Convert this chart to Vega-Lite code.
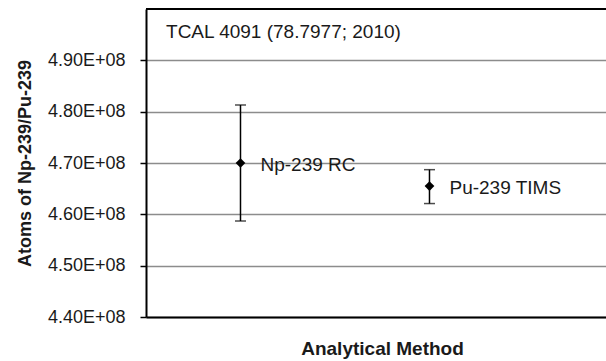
{
  "$schema": "https://vega.github.io/schema/vega-lite/v6.json",
  "autosize": "none",
  "width": 460,
  "height": 308,
  "padding": {"left": 146, "top": 9, "right": 0, "bottom": 44},
  "background": "white",
  "config": {
    "view": {"stroke": null},
    "font": "Liberation Sans",
    "axis": {"labelFont": "Liberation Sans", "titleFont": "Liberation Sans"}
  },
  "datasets": {
    "methods": [
      {"method": "Np-239 RC", "pos": 1, "atoms": 470000000, "lo": 458700000, "hi": 481300000},
      {"method": "Pu-239 TIMS", "pos": 2, "atoms": 465500000, "lo": 462100000, "hi": 468700000}
    ],
    "note": [
      {"label": "TCAL 4091 (78.7977; 2010)", "pos": 0.606, "atoms": 494350000}
    ]
  },
  "layer": [
    {
      "data": {"name": "methods"},
      "mark": {"type": "rule", "color": "black", "strokeWidth": 1.5},
      "encoding": {
        "x": {
          "field": "pos", "type": "quantitative",
          "scale": {"domain": [0.5, 2.934], "nice": false, "zero": false},
          "axis": {
            "title": "Analytical Method", "labels": false, "ticks": false, "grid": false,
            "domainColor": "black", "domainWidth": 2,
            "titleFontSize": 19, "titleFontWeight": "bold", "titleColor": "#1a1a1a",
            "titlePadding": 22, "titleX": 236
          }
        },
        "y": {
          "field": "lo", "type": "quantitative",
          "scale": {"domain": [440000000, 500000000], "nice": false, "zero": false},
          "axis": {
            "title": "Atoms of Np-239/Pu-239",
            "values": [440000000, 450000000, 460000000, 470000000, 480000000, 490000000],
            "labelExpr": "format(datum.value / 1e8, '.2f') + 'E+08'",
            "labelFontSize": 18, "labelColor": "#1a1a1a", "labelPadding": 15,
            "tickSize": 6, "tickColor": "black", "tickWidth": 1.5,
            "domainColor": "black", "domainWidth": 2,
            "gridColor": "#8c8c8c", "gridWidth": 1.5,
            "titleFontSize": 18, "titleFontWeight": "bold", "titleColor": "#1a1a1a",
            "titlePadding": 13
          }
        },
        "y2": {"field": "hi"}
      }
    },
    {
      "data": {"name": "methods"},
      "mark": {"type": "tick", "orient": "horizontal", "color": "black", "thickness": 1.5, "size": 11},
      "encoding": {
        "x": {"field": "pos", "type": "quantitative"},
        "y": {"field": "lo", "type": "quantitative"}
      }
    },
    {
      "data": {"name": "methods"},
      "mark": {"type": "tick", "orient": "horizontal", "color": "black", "thickness": 1.5, "size": 11},
      "encoding": {
        "x": {"field": "pos", "type": "quantitative"},
        "y": {"field": "hi", "type": "quantitative"}
      }
    },
    {
      "data": {"name": "methods"},
      "mark": {"type": "point", "shape": "diamond", "filled": true, "color": "black", "opacity": 1, "size": 95},
      "encoding": {
        "x": {"field": "pos", "type": "quantitative"},
        "y": {"field": "atoms", "type": "quantitative"}
      }
    },
    {
      "data": {"name": "methods"},
      "mark": {"type": "text", "align": "left", "baseline": "alphabetic", "dx": 20, "dy": 8, "fontSize": 19, "color": "#1a1a1a"},
      "encoding": {
        "x": {"field": "pos", "type": "quantitative"},
        "y": {"field": "atoms", "type": "quantitative"},
        "text": {"field": "method"}
      }
    },
    {
      "data": {"name": "note"},
      "mark": {"type": "text", "align": "left", "baseline": "alphabetic", "fontSize": 19, "color": "#1a1a1a"},
      "encoding": {
        "x": {"field": "pos", "type": "quantitative"},
        "y": {"field": "atoms", "type": "quantitative"},
        "text": {"field": "label"}
      }
    },
    {
      "data": {"values": [{"atoms": 500000000}]},
      "mark": {"type": "rule", "color": "black", "strokeWidth": 2},
      "encoding": {
        "y": {"field": "atoms", "type": "quantitative"}
      }
    }
  ]
}
